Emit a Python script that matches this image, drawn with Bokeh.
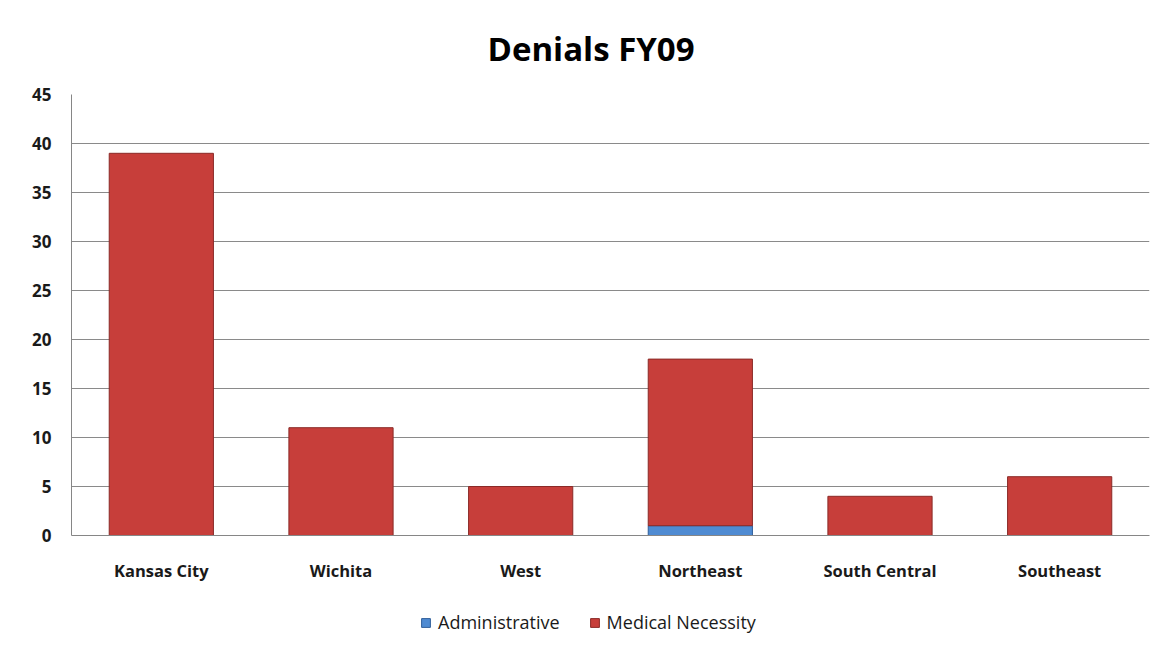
from bokeh.plotting import figure
from bokeh.models import FactorRange, Range1d, Legend, LegendItem
from bokeh.layouts import column
from bokeh.embed import file_html
from bokeh.resources import INLINE

regions = ["Kansas City", "Wichita", "West", "Northeast", "South Central", "Southeast"]
administrative = [0, 0, 0, 1, 0, 0]
medical_necessity = [39, 11, 5, 17, 4, 6]
series = ["Administrative", "Medical Necessity"]
colors = ["#4F8BD2", "#C73E3A"]
edge_colors = ["#2F5E9A", "#8A2A27"]
y_ticks = [0, 5, 10, 15, 20, 25, 30, 35, 40, 45]

FONT = "Open Sans"

p = figure(width=1155, height=600, output_backend="svg", toolbar_location=None,
           x_range=FactorRange(*regions, range_padding=0), y_range=Range1d(0, 45),
           min_border_left=71, min_border_right=6, min_border_top=93, min_border_bottom=65)

data = {"regions": regions, "Administrative": administrative, "Medical Necessity": medical_necessity}
rs = p.vbar_stack(series, x="regions", width=0.58, source=data,
                  fill_color=colors, line_color=edge_colors, line_width=1)

p.title.text = "Denials FY09"
p.title.align = "left"
p.title.offset = 416
p.title.vertical_align = "bottom"
p.title.standoff = 47
p.title.text_font = FONT
p.title.text_font_size = "33px"
p.title.text_font_style = "bold"
p.title.text_color = "#000000"

p.yaxis.ticker = y_ticks
p.yaxis.major_tick_line_color = None
p.yaxis.minor_tick_line_color = None
p.yaxis.axis_line_color = "#868686"
p.yaxis.major_label_text_font = FONT
p.yaxis.major_label_text_font_size = "17px"
p.yaxis.major_label_text_font_style = "bold"
p.yaxis.major_label_text_color = "#1a1a1a"
p.yaxis.major_label_standoff = 14

p.xaxis.major_tick_line_color = None
p.xaxis.minor_tick_line_color = None
p.xaxis.axis_line_color = "#868686"
p.xaxis.major_label_text_font = FONT
p.xaxis.major_label_text_font_size = "16.5px"
p.xaxis.major_label_text_font_style = "bold"
p.xaxis.major_label_text_color = "#1a1a1a"
p.xaxis.major_label_standoff = 17

p.xgrid.grid_line_color = None
p.ygrid.grid_line_color = "#8a8a8a"
p.ygrid.grid_line_width = 1
p.outline_line_color = None

# separate strip below for the legend (keeps it outside the plot frame)
lp = figure(width=1155, height=44, output_backend="svg", toolbar_location=None,
            x_axis_type=None, y_axis_type=None, min_border=0,
            x_range=Range1d(0, 1), y_range=Range1d(0, 1))
lp.grid.visible = False
lp.outline_line_color = None
items = []
for s, c, e in zip(series, colors, edge_colors):
    # tiny swatch renderers hidden behind the legend's opaque background
    r = lp.vbar(x=[0.5], bottom=[0.45], top=[0.55], width=0.005, fill_color=c, line_color=e)
    items.append(LegendItem(label=s, renderers=[r]))

legend = Legend(items=items, orientation="horizontal", location=(349, 10),
                label_text_font=FONT, label_text_font_size="18px", label_text_color="#1a1a1a",
                glyph_width=11, glyph_height=11, label_standoff=7, spacing=29, margin=0, padding=0,
                border_line_color=None, background_fill_color="white", background_fill_alpha=1)
lp.add_layout(legend)

layout = column(p, lp, spacing=0)

open("out.html", "w").write(file_html(layout, INLINE))
